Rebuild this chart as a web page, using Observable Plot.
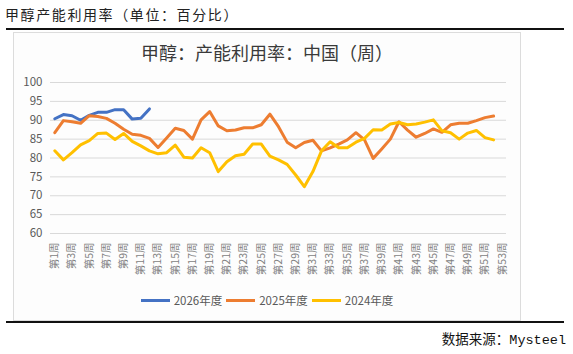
<!DOCTYPE html>
<html>
<head>
<meta charset="utf-8">
<script src="https://cdn.jsdelivr.net/npm/d3@7"></script>
<script src="https://cdn.jsdelivr.net/npm/@observablehq/plot@0.6"></script>
<style>
  html, body { margin: 0; padding: 0; background: #fff; }
  body { width: 573px; height: 354px; position: relative; overflow: hidden; font-family: "Noto Sans CJK SC", sans-serif; }
  #toptitle { position: absolute; left: 5px; top: 5px; font-size: 14px; line-height: 18px; letter-spacing: 1.6px; color: #222; }
  #topline { position: absolute; left: 6px; top: 28px; width: 558px; height: 2px; background: #111; }
  #box { position: absolute; left: 13px; top: 32px; width: 508px; height: 289px; box-sizing: border-box; border: 1px solid #dcdcdc; background: #fdfdfd; }
  #chart { position: absolute; left: 13px; top: 32px; }
  #charttitle { position: absolute; left: 13px; width: 508px; top: 40px; text-align: center; font-size: 18px; line-height: 24px; color: #3a3a3a; }
  #legend { position: absolute; left: 13px; width: 508px; top: 292px; display: flex; justify-content: center; align-items: center; font-size: 11.5px; color: #595959; line-height: 16px; }
  #legend .item { display: flex; align-items: center; margin: 0 2px; }
  #legend .sw { width: 29px; height: 3px; margin-right: 4px; }
  #bottomline { position: absolute; left: 6px; top: 321px; width: 558px; height: 2px; background: #111; }
  #source { position: absolute; right: 7px; top: 329px; font-size: 13.5px; line-height: 18px; color: #111; }
  #source .m { font-family: "Liberation Mono", monospace; }
</style>
</head>
<body>
<div id="toptitle">甲醇产能利用率（单位：百分比）</div>
<div id="topline"></div>
<div id="box"></div>
<div id="chart"></div>
<div id="charttitle">甲醇：产能利用率：中国（周）</div>
<div id="legend"></div>
<div id="bottomline"></div>
<div id="source">数据来源：<span class="m">Mysteel</span></div>
<script>
// ---- data ----
const seriesNames = ["2026年度", "2025年度", "2024年度"];
const seriesColors = ["#4472C4", "#ED7D31", "#FFC000"];

const y2026 = [90.4, 91.5, 91.2, 90.0, 91.3, 92.1, 92.1, 92.8, 92.8, 90.3, 90.5, 93.0];

const y2025 = [86.7, 89.9, 89.6, 89.2, 91.2, 91.0, 90.5, 89.2, 87.6, 86.3,
               86.0, 85.2, 82.8, 85.3, 87.9, 87.3, 85.0, 90.1, 92.3, 88.5,
               87.2, 87.4, 88.0, 88.0, 88.8, 91.6, 88.3, 84.2, 82.7, 84.1,
               84.7, 81.9, 82.7, 83.7, 84.8, 86.7, 84.8, 79.9, 82.4, 85.0,
               89.6, 87.4, 85.5, 86.5, 87.7, 86.8, 88.8, 89.2, 89.2, 89.9,
               90.7, 91.1];

const y2024 = [81.9, 79.5, 81.4, 83.5, 84.6, 86.5, 86.6, 84.9, 86.5, 84.4,
               83.2, 81.9, 81.1, 81.4, 83.4, 80.2, 80.0, 82.7, 81.4, 76.4,
               79.0, 80.6, 81.0, 83.7, 83.7, 80.5, 79.5, 78.3, 75.5, 72.4,
               76.4, 81.9, 84.3, 82.7, 82.7, 84.2, 85.2, 87.5, 87.4, 89.0,
               89.4, 88.8, 89.0, 89.5, 90.1, 87.2, 86.7, 85.0, 86.6, 87.3,
               85.4, 84.8];

const xTickWeeks = [1, 3, 5, 7, 9, 11, 13, 15, 17, 19, 21, 23, 25, 27, 29, 31, 33, 35, 37, 39, 41, 43, 45, 47, 49, 51, 53];
const yTicks = [60, 65, 70, 75, 80, 85, 90, 95, 100];

// ---- build tables ----
const toRows = (arr, name) => arr.map((v, i) => ({week: i + 1, value: v, series: name}));
const d2026 = toRows(y2026, seriesNames[0]);
const d2025 = toRows(y2025, seriesNames[1]);
const d2024 = toRows(y2024, seriesNames[2]);

const chart = Plot.plot({
  width: 508,
  height: 288,
  marginLeft: 37,
  marginRight: 15,
  marginTop: 50,
  marginBottom: 87,
  style: { background: "transparent", fontFamily: "'Noto Sans CJK SC', sans-serif", color: "#595959" },
  x: { domain: [0.5, 53.5] },
  y: { domain: [60, 100] },
  marks: [
    Plot.ruleY(yTicks, { stroke: "#d9d9d9", strokeWidth: 1 }),
    Plot.axisY(yTicks, { tickSize: 0, tickPadding: 8, fontSize: 11.5, fill: "#595959", label: null }),
    Plot.axisX(xTickWeeks, { tickSize: 0, tickPadding: 9, tickRotate: -90, fontSize: 10.5, fill: "#7f7f7f",
      tickFormat: d => `第${d}周`, label: null }),
    Plot.line(d2026, { x: "week", y: "value", stroke: seriesColors[0], strokeWidth: 3, strokeLinejoin: "round", strokeLinecap: "round" }),
    Plot.line(d2025, { x: "week", y: "value", stroke: seriesColors[1], strokeWidth: 3, strokeLinejoin: "round", strokeLinecap: "round" }),
    Plot.line(d2024, { x: "week", y: "value", stroke: seriesColors[2], strokeWidth: 3, strokeLinejoin: "round", strokeLinecap: "round" })
  ]
});
document.getElementById("chart").appendChild(chart);

const legend = document.getElementById("legend");
seriesNames.forEach((n, i) => {
  const item = document.createElement("div");
  item.className = "item";
  const sw = document.createElement("div");
  sw.className = "sw";
  sw.style.background = seriesColors[i];
  const t = document.createElement("span");
  t.textContent = n;
  item.appendChild(sw);
  item.appendChild(t);
  legend.appendChild(item);
});
</script>
</body>
</html>
